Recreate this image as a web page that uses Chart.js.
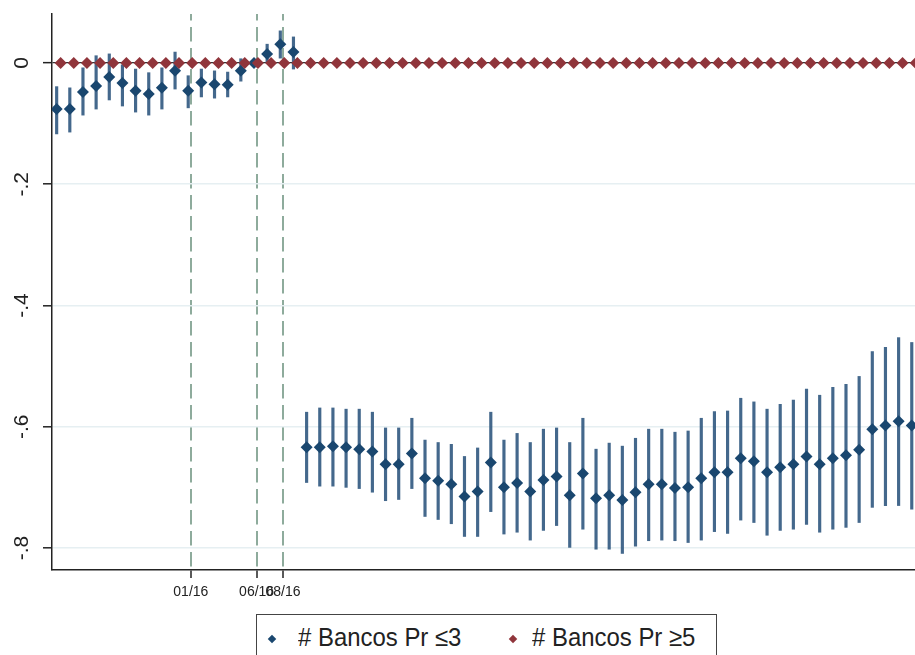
<!DOCTYPE html>
<html>
<head>
<meta charset="utf-8">
<script src="https://cdn.jsdelivr.net/npm/chart.js@4"></script>
<style>
  html, body { margin: 0; padding: 0; background: #fff; overflow: hidden; width: 915px; height: 655px; }
  #wrap { position: absolute; left: 0; top: 0; width: 935px; height: 655px; }
  #legend { position: absolute; left: 256px; top: 614px; width: 461px; height: 60px; border: 1.5px solid #444; background: #fff; box-sizing: border-box; font-family: "Liberation Sans", Arial, sans-serif; font-size: 26px; color: #222; }
  .dia { position: absolute; width: 6px; height: 6px; transform: rotate(45deg); }
  .lab { position: absolute; top: 8.5px; line-height: 26px; white-space: nowrap; transform: scaleX(0.92); transform-origin: 0 50%; }
</style>
</head>
<body>
<div id="wrap">
  <canvas id="c" width="935" height="655"></canvas>
</div>
<div id="legend">
  <div class="dia" style="left:12px; top:21px; background:#1a476f;"></div>
  <div class="lab" style="left:40.5px;"># Bancos Pr ≤3</div>
  <div class="dia" style="left:253px; top:21px; background:#90353b;"></div>
  <div class="lab" style="left:275px;"># Bancos Pr ≥5</div>
</div>
<script>
// ---- data ----
const periods = [0,1,2,3,4,5,6,7,8,9,10,11,12,13,14,15,16,17,18,19,20,21,22,23,24,25,26,27,28,29,30,31,32,33,34,35,36,37,38,39,40,41,42,43,44,45,46,47,48,49,50,51,52,53,54,55,56,57,58,59,60,61,62,63,64,65];
const xTickValues = [10, 15, 17];
const xTickLabels = ['01/16', '06/16', '08/16'];
const yTickValues = [0, -0.2, -0.4, -0.6, -0.8];
const yTickLabels = ['0', '-.2', '-.4', '-.6', '-.8'];
const seriesNames = ['# Bancos Pr ≤3', '# Bancos Pr ≥5'];

const blueCoef = [-0.076,-0.076,-0.048,-0.038,-0.023,-0.033,-0.046,-0.051,-0.041,-0.013,
  -0.046,-0.032,-0.035,-0.036,-0.013,0.000,0.015,0.031,0.018,
  -0.634,-0.634,-0.632,-0.634,-0.637,-0.641,-0.662,-0.662,-0.644,-0.685,-0.689,-0.695,-0.715,-0.707,-0.659,
  -0.700,-0.693,-0.707,-0.688,-0.682,-0.713,-0.677,-0.718,-0.713,-0.721,-0.708,-0.695,-0.695,-0.701,-0.700,
  -0.685,-0.675,-0.675,-0.652,-0.657,-0.675,-0.667,-0.662,-0.649,-0.662,-0.652,-0.647,-0.638,-0.604,-0.598,-0.591,-0.598];
const blueHi = [-0.039,-0.041,-0.008,0.012,0.015,-0.003,-0.010,-0.016,-0.008,0.018,
  -0.021,-0.010,-0.013,-0.015,0.007,0.000,0.031,0.053,0.043,
  -0.576,-0.569,-0.569,-0.571,-0.571,-0.576,-0.602,-0.602,-0.586,-0.622,-0.626,-0.629,-0.649,-0.635,-0.576,
  -0.622,-0.611,-0.626,-0.604,-0.602,-0.626,-0.586,-0.637,-0.627,-0.632,-0.619,-0.604,-0.604,-0.609,-0.607,
  -0.586,-0.575,-0.574,-0.553,-0.559,-0.571,-0.563,-0.556,-0.538,-0.548,-0.535,-0.530,-0.517,-0.476,-0.469,-0.453,-0.461];
const blueLo = [-0.117,-0.114,-0.086,-0.076,-0.061,-0.071,-0.081,-0.086,-0.076,-0.043,
  -0.074,-0.056,-0.058,-0.056,-0.030,0.000,0.000,0.008,-0.010,
  -0.692,-0.698,-0.698,-0.700,-0.702,-0.708,-0.722,-0.720,-0.702,-0.748,-0.753,-0.760,-0.781,-0.781,-0.740,
  -0.777,-0.774,-0.787,-0.771,-0.763,-0.799,-0.769,-0.802,-0.802,-0.809,-0.797,-0.788,-0.787,-0.788,-0.791,
  -0.787,-0.773,-0.776,-0.754,-0.758,-0.779,-0.771,-0.769,-0.761,-0.774,-0.769,-0.766,-0.758,-0.733,-0.730,-0.730,-0.736];
const redCoef = [0,0,0,0,0,0,0,0,0,0,0,0,0,0,0,0,0,0,0,0,0,0,0,0,0,0,0,0,0,0,0,0,0,
  0,0,0,0,0,0,0,0,0,0,0,0,0,0,0,0,0,0,0,0,0,0,0,0,0,0,0,0,0,0,0,0,0];

// ---- style ----
const BLUE = '#1a476f', RED = '#90353b';
const blueShift = -0.2, redShift = 0.1;
const FONT = '"Liberation Sans", Arial, sans-serif';

const yLabelPlugin = {
  id: 'yRotLabels',
  afterDraw(chart) {
    const ys = chart.scales.y, ctx = chart.ctx;
    ctx.save();
    ctx.font = '21px ' + FONT;
    ctx.fillStyle = '#222';
    ctx.textAlign = 'center';
    ctx.textBaseline = 'middle';
    yTickValues.forEach((v, i) => {
      const py = ys.getPixelForValue(v);
      ctx.save();
      ctx.translate(22, py);
      ctx.rotate(-Math.PI / 2);
      ctx.fillText(yTickLabels[i], 0, 0);
      ctx.restore();
    });
    ctx.restore();
  }
};

new Chart(document.getElementById('c'), {
  type: 'scatter',
  data: {
    datasets: [
      {
        type: 'bar',
        label: 'CI',
        data: periods.map((t, i) => ({ x: t + blueShift, y: [blueLo[i], blueHi[i]] })),
        backgroundColor: 'rgba(48,88,128,0.9)',
        borderWidth: 0,
        barThickness: 2.5,
        grouped: false,
        order: 3
      },
      {
        label: seriesNames[0],
        data: periods.map((t, i) => ({ x: t + blueShift, y: blueCoef[i] })),
        pointStyle: 'rectRot',
        pointRadius: 6,
        pointBorderWidth: 0,
        backgroundColor: BLUE,
        borderColor: BLUE,
        order: 2
      },
      {
        label: seriesNames[1],
        data: periods.map((t, i) => ({ x: t + redShift, y: redCoef[i] })),
        pointStyle: 'rectRot',
        pointRadius: 6,
        pointBorderWidth: 0,
        backgroundColor: RED,
        borderColor: RED,
        order: 1
      }
    ]
  },
  options: {
    responsive: false,
    animation: false,
    devicePixelRatio: 1,
    layout: { padding: { top: 14, right: 5, bottom: 0, left: 0 } },
    plugins: { legend: { display: false }, tooltip: { enabled: false } },
    scales: {
      x: {
        type: 'linear',
        min: -0.554,
        max: 66.11,
        offset: false,
        afterBuildTicks: (s) => { s.ticks = xTickValues.map(v => ({ value: v })); },
        afterFit: (s) => { s.height = 85; },
        ticks: {
          autoSkip: false,
          maxRotation: 0,
          minRotation: 0,
          padding: 6,
          color: '#222',
          font: { family: FONT, size: 14 },
          callback: (v) => { const k = xTickValues.indexOf(v); return k >= 0 ? xTickLabels[k] : ''; }
        },
        grid: {
          offset: false,
          color: '#8eab9c',
          lineWidth: 2,
          tickColor: '#222',
          tickWidth: 1.5,
          tickLength: 8,
          tickBorderDash: []
        },
        border: { display: true, color: '#222', width: 1.5, dash: [14.5, 6.5], dashOffset: 8 }
      },
      y: {
        type: 'linear',
        min: -0.8363,
        max: 0.0808,
        afterBuildTicks: (s) => { s.ticks = yTickValues.map(v => ({ value: v })); },
        afterFit: (s) => { s.width = 52; },
        ticks: { display: false },
        grid: {
          color: (ctx) => (ctx.tick && ctx.tick.value === 0) ? '#333' : '#e6eff2',
          lineWidth: (ctx) => (ctx.tick && ctx.tick.value === 0) ? 1.3 : 1.6,
          tickColor: '#222',
          tickWidth: 1.5,
          tickLength: 9
        },
        border: { display: true, color: '#222', width: 1.5 }
      }
    }
  },
  plugins: [yLabelPlugin]
});
</script>
</body>
</html>
